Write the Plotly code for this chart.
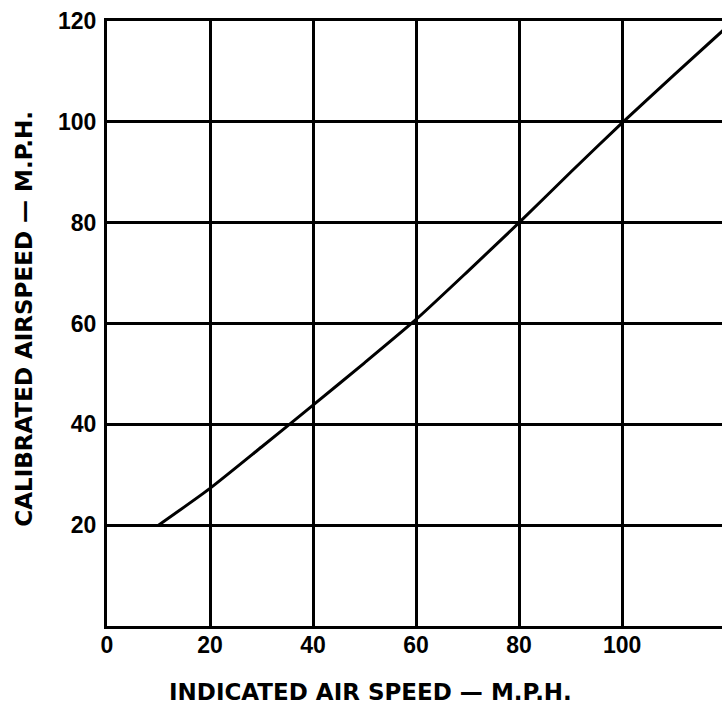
import plotly.graph_objects as go

indicated_mph = [10, 20, 30, 40, 50, 60, 70, 80, 90, 100, 110, 120]
calibrated_mph = [20, 27.3, 35.5, 43.8, 52.2, 60.8, 70.3, 80, 90, 99.8, 109.2, 118.5]

x_ticks = [0, 20, 40, 60, 80, 100]
y_ticks = [20, 40, 60, 80, 100, 120]

x_title = "INDICATED AIR SPEED — M.P.H."
y_title = "CALIBRATED AIRSPEED — M.P.H."

TICK_FONT = "Liberation Sans, Arial, sans-serif"
TITLE_FONT = "DejaVu Sans, sans-serif"

fig = go.Figure()
fig.add_trace(go.Scatter(
    x=indicated_mph, y=calibrated_mph, mode="lines",
    line=dict(color="black", width=3, shape="spline", smoothing=0.6),
    showlegend=False, hoverinfo="skip",
))

fig.update_layout(
    width=722, height=706,
    margin=dict(l=107, r=0, t=21, b=80),
    paper_bgcolor="white", plot_bgcolor="white",
    font=dict(family=TICK_FONT, color="black", size=23, weight="bold"),
    xaxis=dict(
        range=[0, 119.4], tickvals=x_ticks, ticktext=[str(v) for v in x_ticks],
        showgrid=True, gridcolor="black", gridwidth=3,
        showline=True, linecolor="black", linewidth=3, mirror=True,
        zeroline=False, ticks="", ticklabelstandoff=-4,
        tickfont=dict(family=TICK_FONT, size=23, weight="bold"),
    ),
    yaxis=dict(
        range=[0, 120], tickvals=y_ticks, ticktext=[str(v) for v in y_ticks],
        showgrid=True, gridcolor="black", gridwidth=3,
        showline=True, linecolor="black", linewidth=3,
        zeroline=False, ticks="", ticklabelstandoff=3,
        tickfont=dict(family=TICK_FONT, size=23, weight="bold"),
    ),
    annotations=[
        dict(text=x_title, xref="paper", yref="paper", x=0.428, y=0,
             yshift=-66, yanchor="middle", xanchor="center", showarrow=False,
             font=dict(family=TITLE_FONT, size=23, weight="bold")),
        dict(text=y_title, xref="paper", yref="paper", x=0, y=0.508,
             xshift=-83, xanchor="center", yanchor="middle", textangle=-90,
             showarrow=False,
             font=dict(family=TITLE_FONT, size=23, weight="bold")),
    ],
)

fig.write_html(
    "out.html",
    config={"displayModeBar": False},
    post_script="document.body.style.margin='0';document.body.style.overflow='hidden';",
)
